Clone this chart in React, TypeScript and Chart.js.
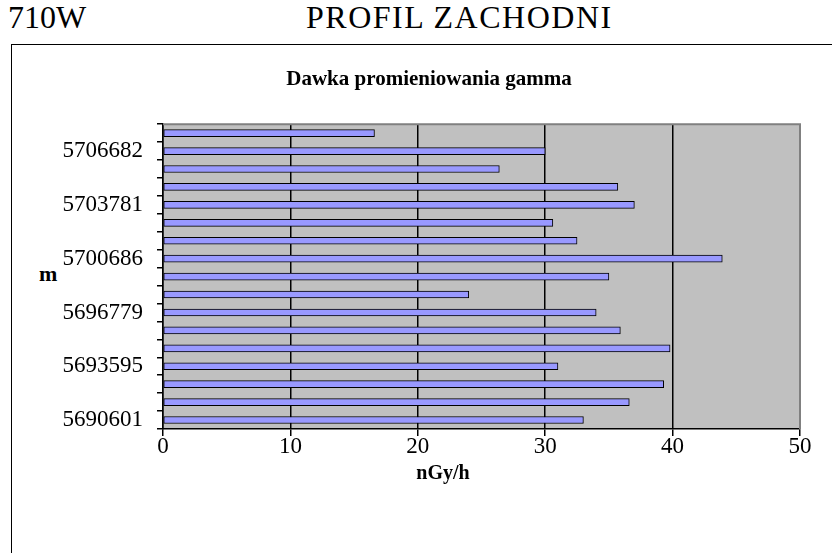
import React, { useEffect, useRef } from 'react';
import { Chart, registerables } from 'chart.js';

Chart.register(...registerables);

const FONT = '"Liberation Serif", "Times New Roman", serif';

// categories listed bottom -> top
const categories: string[] = [
  '5690601', '', '', '5693595', '', '', '5696779', '', '', '5700686', '', '', '5703781', '', '', '5706682', '',
];
const doseValues: number[] = [
  33.0, 36.6, 39.3, 31.0, 39.8, 35.9, 34.0, 24.0, 35.0, 43.9, 32.5, 30.6, 37.0, 35.7, 26.4, 30.0, 16.6,
];
const xTicks = { min: 0, max: 50, step: 10 };
const chartTitle = 'Dawka promieniowania gamma';
const xTitle = 'nGy/h';
const yTitle = 'm';
const headerLeft = '710W';
const headerCenter = 'PROFIL ZACHODNI';

const plotBackground = {
  id: 'plotBackground',
  beforeDraw(chart: any) {
    const { ctx, chartArea } = chart;
    if (!chartArea) return;
    ctx.save();
    ctx.fillStyle = '#c0c0c0';
    ctx.fillRect(chartArea.left, chartArea.top, chartArea.right - chartArea.left, chartArea.bottom - chartArea.top);
    ctx.restore();
  },
  afterDraw(chart: any) {
    const { ctx, chartArea } = chart;
    if (!chartArea) return;
    ctx.save();
    ctx.strokeStyle = '#808080';
    ctx.lineWidth = 2;
    ctx.beginPath();
    ctx.moveTo(chartArea.left, chartArea.top);
    ctx.lineTo(chartArea.right, chartArea.top);
    ctx.lineTo(chartArea.right, chartArea.bottom);
    ctx.stroke();
    ctx.restore();
  },
};

export default function App() {
  const ref = useRef<HTMLCanvasElement | null>(null);

  useEffect(() => {
    if (!ref.current) return;
    const chart = new Chart(ref.current, {
      type: 'bar',
      data: {
        labels: categories,
        datasets: [
          {
            data: doseValues,
            backgroundColor: '#9999ff',
            borderColor: '#000000',
            borderWidth: 1,
            borderSkipped: false,
            barThickness: 7,
          },
        ],
      },
      options: {
        indexAxis: 'y',
        animation: false,
        responsive: true,
        maintainAspectRatio: false,
        layout: { padding: { left: 46, right: 32, top: 0, bottom: 14 } },
        plugins: {
          legend: { display: false },
          tooltip: { enabled: false },
          title: {
            display: true,
            text: chartTitle,
            color: '#000',
            font: { family: FONT, size: 21, weight: 'bold' },
            padding: { top: 22, bottom: 32 },
          },
        },
        scales: {
          x: {
            min: xTicks.min,
            max: xTicks.max,
            ticks: {
              stepSize: xTicks.step,
              color: '#000',
              font: { family: FONT, size: 23 },
              padding: -3,
            },
            grid: {
              color: (c: any) => (c.tick && c.tick.value === xTicks.max ? 'rgba(0,0,0,0)' : '#000'),
              tickColor: '#000',
              lineWidth: 1.5,
              tickLength: 7,
            },
            border: { color: '#000', width: 1.5 },
            title: { display: false },
            afterFit: (s: any) => {
              s.height = 110;
            },
          },
          y: {
            reverse: true,
            ticks: {
              autoSkip: false,
              color: '#000',
              font: { family: FONT, size: 23 },
              padding: 14,
            },
            grid: {
              drawOnChartArea: false,
              color: '#000',
              lineWidth: 1.5,
              tickLength: 6,
              offset: true,
            },
            border: { color: '#000', width: 1.5 },
            afterFit: (s: any) => {
              s.width = 105;
            },
          },
        },
      },
      plugins: [plotBackground],
    });
    return () => chart.destroy();
  }, []);

  return (
    <div style={{ position: 'fixed', left: 0, top: 0, width: 832, height: 553, background: '#fff', fontFamily: FONT, overflow: 'hidden' }}>
      <div style={{ position: 'absolute', left: 8, top: 1, fontSize: 32, lineHeight: '32px', color: '#000' }}>{headerLeft}</div>
      <div style={{ position: 'absolute', left: 306, top: 1, fontSize: 32, lineHeight: '32px', letterSpacing: 1.5, color: '#000' }}>{headerCenter}</div>
      <div style={{ position: 'absolute', left: 11, top: 44, right: 0, bottom: 0, borderTop: '1px solid #000', borderLeft: '1px solid #000' }} />
      <div style={{ position: 'absolute', left: 39, top: 263, fontSize: 22, lineHeight: '22px', fontWeight: 'bold', color: '#000' }}>{yTitle}</div>
      <div style={{ position: 'absolute', left: 12, top: 45, width: 820, height: 508 }}>
        <canvas ref={ref} />
      </div>
      <div style={{ position: 'absolute', left: 443 - 40, width: 80, textAlign: 'center', top: 461, fontSize: 20, lineHeight: '22px', fontWeight: 'bold', color: '#000' }}>{xTitle}</div>
    </div>
  );
}
